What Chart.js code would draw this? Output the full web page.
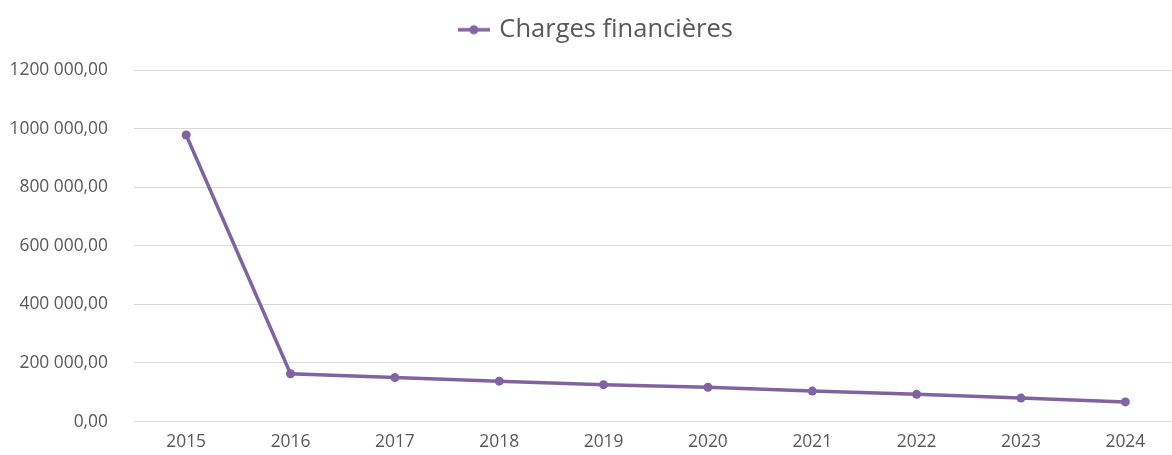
<!DOCTYPE html>
<html>
<head>
<meta charset="utf-8">
<script src="https://cdn.jsdelivr.net/npm/chart.js@4"></script>
<style>
html,body{margin:0;padding:0;background:#fff;overflow:hidden;}
#wrap{width:1182px;height:458px;position:relative;}
</style>
</head>
<body>
<div id="wrap"><canvas id="c"></canvas></div>
<script>
const categories = ['2015','2016','2017','2018','2019','2020','2021','2022','2023','2024'];
const seriesName = 'Charges financières';
const values = [978000, 163000, 150000, 138000, 126000, 117000, 104000, 93000, 80000, 67000];
const yTickLabels = {0:'0,00',200000:'200 000,00',400000:'400 000,00',600000:'600 000,00',800000:'800 000,00',1000000:'1000 000,00',1200000:'1200 000,00'};

const color = '#8064A2';
const textColor = '#595959';
const font = '"Open Sans", "Liberation Sans", sans-serif';

// legend marker: line with dot
const mk = document.createElement('canvas');
mk.width = 32; mk.height = 12;
const g = mk.getContext('2d');
g.strokeStyle = color; g.lineWidth = 3.5;
g.beginPath(); g.moveTo(0,6); g.lineTo(32,6); g.stroke();
g.fillStyle = color; g.beginPath(); g.arc(16,6,4.5,0,Math.PI*2); g.fill();

const legendHeightPlugin = {
  id: 'legendHeight',
  afterInit(chart) {
    const lg = chart.legend;
    if (lg) {
      const origFit = lg.fit.bind(lg);
      lg.fit = function() { origFit(); this.height = 70; };
      const origDraw = lg.draw.bind(lg);
      lg.draw = function() {
        const ctx = this.ctx;
        ctx.save(); ctx.translate(6, 0); origDraw(); ctx.restore();
      };
    }
  }
};

new Chart(document.getElementById('c'), {
  type: 'line',
  plugins: [legendHeightPlugin],
  data: {
    labels: categories,
    datasets: [{
      label: seriesName,
      data: values,
      borderColor: color,
      backgroundColor: color,
      borderWidth: 3.5,
      pointRadius: 4.5,
      pointHoverRadius: 4.5,
      pointBackgroundColor: color,
      pointBorderWidth: 0,
      pointStyle: 'circle',
      tension: 0
    }]
  },
  options: {
    responsive: true,
    maintainAspectRatio: false,
    animation: false,
    layout: { padding: { left: 0, right: 0, top: 0, bottom: 0 } },
    plugins: {
      legend: {
        position: 'top',
        labels: {
          color: textColor,
          font: { family: font, size: 25.5 },
          usePointStyle: true,
          generateLabels: (chart) => [{
            text: seriesName, fillStyle: color, strokeStyle: color,
            pointStyle: mk, lineWidth: 0, datasetIndex: 0, fontColor: textColor
          }],
          padding: 17,
          boxWidth: 32,
          boxHeight: 12
        }
      },
      tooltip: { enabled: false }
    },
    scales: {
      x: {
        offset: true,
        afterFit: (s) => { s.height = 31; },
        grid: { display: false, drawTicks: false, offset: true },
        border: { display: false },
        ticks: { color: textColor, font: { family: font, size: 17.4 }, padding: 10, maxRotation: 0, autoSkip: false }
      },
      y: {
        min: 0, max: 1200000,
        afterFit: (s) => { s.width = 134; },
        grid: { color: '#d9d9d9', lineWidth: 1, drawTicks: false },
        border: { display: false },
        ticks: {
          stepSize: 200000,
          color: textColor,
          font: { family: font, size: 17.4 },
          padding: 26,
          callback: (v) => yTickLabels[v]
        }
      }
    }
  }
});
</script>
</body>
</html>
